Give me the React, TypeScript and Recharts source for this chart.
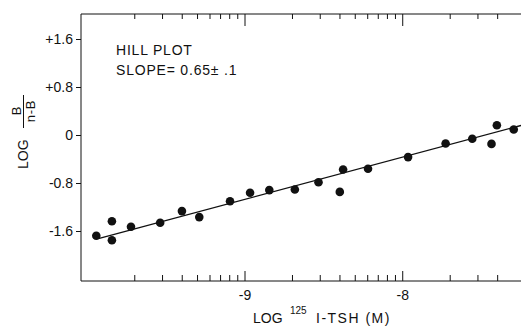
import React from 'react';
import { ComposedChart, Scatter, Line, XAxis, YAxis, Customized } from 'recharts';

const pointX = [-9.943, -9.844, -9.844, -9.723, -9.538, -9.4, -9.29, -9.095, -8.968, -8.846, -8.684, -8.534, -8.399, -8.378, -8.22, -7.966, -7.728, -7.559, -7.437, -7.403, -7.296];
const pointY = [-1.67, -1.43, -1.745, -1.52, -1.455, -1.26, -1.36, -1.095, -0.955, -0.91, -0.9, -0.78, -0.94, -0.567, -0.555, -0.36, -0.133, -0.055, -0.14, 0.17, 0.1];
const fitX = [-9.93, -7.25];
const fitY = [-1.717, 0.167];
const yTicks = [-1.6, -0.8, 0, 0.8, 1.6];
const xMajorTicks = [-9, -8];
const xMinorTicks = [
  -9.699, -9.523, -9.398, -9.301, -9.222, -9.155, -9.097, -9.046,
  -8.699, -8.523, -8.398, -8.301, -8.222, -8.155, -8.097, -8.046,
  -7.699, -7.523, -7.398,
];

const points = pointX.map((x, i) => ({ x, y: pointY[i] }));
const fitLine = fitX.map((x, i) => ({ x, y: fitY[i] }));
const allXTicks = [...xMinorTicks, ...xMajorTicks].sort((a, b) => a - b);

const FONT = '"Liberation Sans", Arial, Helvetica, sans-serif';
const INK = '#111';

const BottomTick = (props: any) => {
  const { x, y, payload } = props;
  const major = xMajorTicks.includes(payload.value);
  return (
    <g>
      <line x1={x} x2={x} y1={y} y2={y - (major ? 10 : 6)} stroke={INK} strokeWidth={1} />
      {major && (
        <text x={x} y={y + 19} textAnchor="middle" fontFamily={FONT} fontSize={14} fill={INK}>
          {String(payload.value)}
        </text>
      )}
    </g>
  );
};

const TopTick = (props: any) => {
  const { x, y, payload } = props;
  const major = xMajorTicks.includes(payload.value);
  return (
    <line x1={x} x2={x} y1={y} y2={y + (major ? 12 : 5)} stroke={INK} strokeWidth={1} />
  );
};

const fmtY = (v: number) => (v > 0 ? '+' + v.toFixed(1) : v === 0 ? '0' : v.toFixed(1));

const Dot = (props: any) => <circle cx={props.cx} cy={props.cy} r={4.3} fill={INK} />;

const Annotations = () => (
  <g fontFamily={FONT} fill={INK}>
    <text x={116} y={55} fontSize={14} letterSpacing={0.8}>HILL PLOT</text>
    <text x={116} y={75} fontSize={14} letterSpacing={0.8}>SLOPE= 0.65± .1</text>
    <text transform="translate(28,169) rotate(-90)" fontSize={14}>LOG</text>
    <text transform="translate(21,111) rotate(-90)" fontSize={13} textAnchor="middle">B</text>
    <line x1={23.5} x2={23.5} y1={95} y2={128} stroke={INK} strokeWidth={1} />
    <text transform="translate(35,111) rotate(-90)" fontSize={13} textAnchor="middle" letterSpacing={0.8}>n-B</text>
    <text x={253} y={323} fontSize={14}>LOG</text>
    <text x={290} y={314} fontSize={10}>125</text>
    <text x={316} y={323} fontSize={14} letterSpacing={1.5}>I-TSH (M)</text>
  </g>
);

export default function App() {
  return (
    <div style={{ position: 'absolute', left: 0, top: 0, background: '#fff' }}>
      <ComposedChart width={521} height={326} margin={{ top: 0, right: 0, bottom: 0, left: 0 }}>
        <XAxis
          xAxisId="b"
          type="number"
          dataKey="x"
          domain={[-10.04, -7.25]}
          allowDataOverflow
          ticks={allXTicks}
          interval={0}
          tickSize={0}
          tickMargin={0}
          tick={<BottomTick />}
          height={45}
          stroke={INK}
          orientation="bottom"
        />
        <XAxis
          xAxisId="t"
          type="number"
          dataKey="x"
          domain={[-10.04, -7.25]}
          allowDataOverflow
          ticks={allXTicks}
          interval={0}
          tickSize={0}
          tickMargin={0}
          tick={<TopTick />}
          height={14}
          stroke={INK}
          orientation="top"
        />
        <YAxis
          type="number"
          dataKey="y"
          domain={[-2.425, 2.025]}
          allowDataOverflow
          ticks={yTicks}
          interval={0}
          tickFormatter={fmtY}
          tickSize={5}
          tickMargin={3}
          width={81}
          stroke={INK}
          tick={{ fill: INK, fontSize: 14, fontFamily: FONT }}
        />
        <Line
          xAxisId="b"
          data={fitLine}
          dataKey="y"
          stroke={INK}
          strokeWidth={1.3}
          dot={false}
          isAnimationActive={false}
        />
        <Scatter xAxisId="b" data={points} dataKey="y" shape={<Dot />} isAnimationActive={false} />
        <Customized component={Annotations} />
      </ComposedChart>
    </div>
  );
}
